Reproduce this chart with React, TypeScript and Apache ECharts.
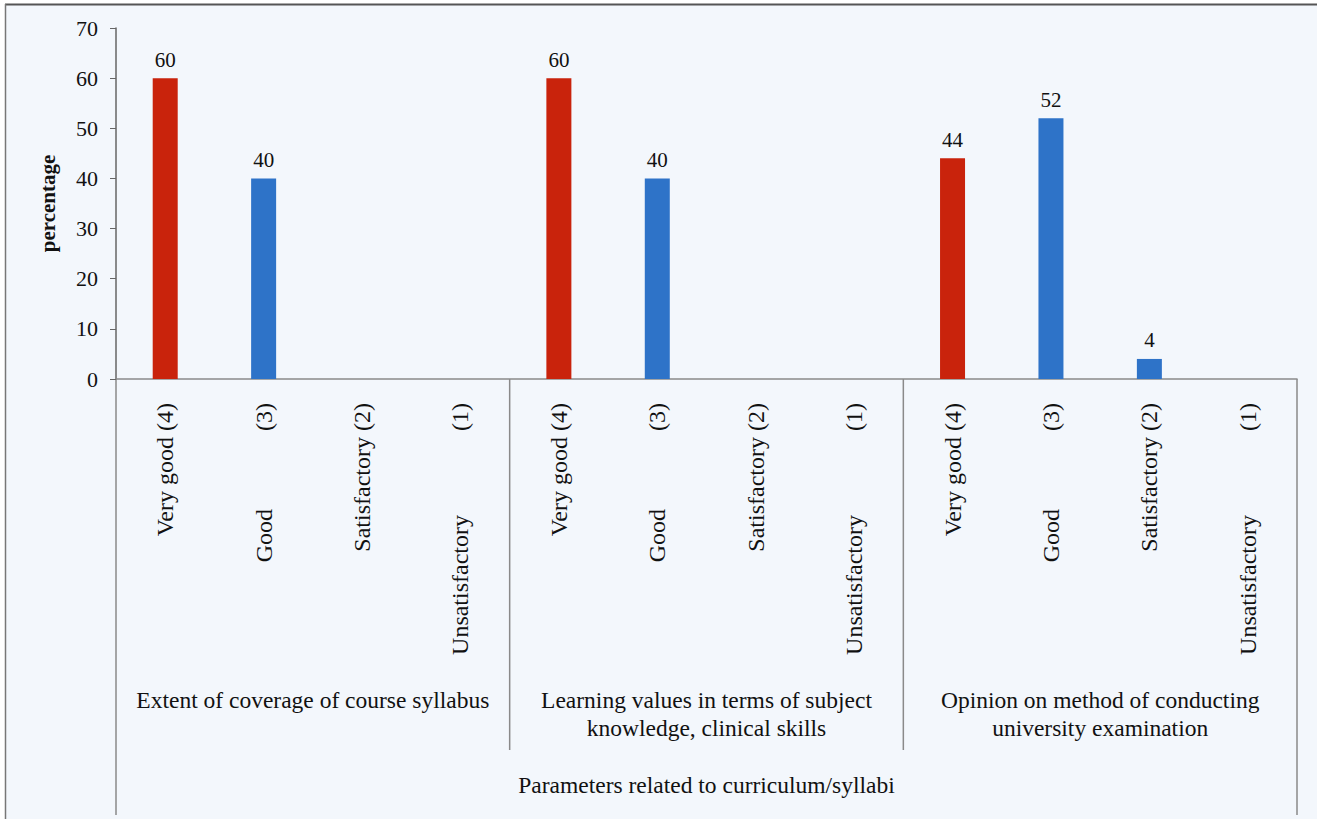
import React, { useEffect, useRef } from "react";
import * as echarts from "echarts";

const NB = "\u00A0";
const groupNames = [
  "Extent of coverage of course syllabus",
  "Learning values in terms of subject\nknowledge, clinical skills",
  "Opinion on method of conducting\nuniversity examination",
];
const ratingLabels = [
  "Very good (4)",
  "Good" + NB.repeat(13) + "(3)",
  "Satisfactory (2)",
  "Unsatisfactory" + NB.repeat(14) + "(1)",
];
const coverageValues = [60, 40, 0, 0];
const learningValues = [60, 40, 0, 0];
const examValues = [44, 52, 4, 0];
const yTicks = { min: 0, max: 70, interval: 10 };
const xTitle = "Parameters related to curriculum/syllabi";
const yTitle = "percentage";

const RED = "#c9230c";
const BLUE = "#2e73c8";
const FONT = "'Liberation Serif', 'Times New Roman', 'DejaVu Serif', serif";

export default function App() {
  const ref = useRef<HTMLDivElement>(null);
  useEffect(() => {
    document.body.style.margin = "0";
    const el = ref.current!;
    const chart = echarts.init(el, null, { renderer: "svg" });
    const groupsValues = [coverageValues, learningValues, examValues];
    const categories: string[] = [];
    const values: number[] = [];
    groupsValues.forEach((g, gi) =>
      g.forEach((v, ri) => {
        categories.push(`${gi}-${ri}`);
        values.push(v);
      })
    );
    chart.setOption({
      animation: false,
      backgroundColor: "#f3f7fc",
      textStyle: { fontFamily: FONT },
      grid: { left: 116, right: 20, top: 28, bottom: 440, containLabel: false },
      xAxis: {
        type: "category",
        data: categories,
        axisLine: { show: true, lineStyle: { color: "#8a8a8a", width: 1.5 } },
        axisTick: { show: false },
        axisLabel: {
          interval: 0,
          rotate: 90,
          margin: 24,
          fontFamily: FONT,
          fontSize: 24,
          color: "#111",
          formatter: (_v: string, i: number) => ratingLabels[i % 4],
        },
      },
      yAxis: {
        type: "value",
        min: yTicks.min,
        max: yTicks.max,
        interval: yTicks.interval,
        name: yTitle,
        nameLocation: "middle",
        nameGap: 58,
        nameRotate: 90,
        nameTextStyle: { fontFamily: FONT, fontSize: 21, fontWeight: "bold", color: "#111" },
        splitLine: { show: false },
        axisLine: { show: true, lineStyle: { color: "#666", width: 1.5 } },
        axisTick: { show: true, length: 6, lineStyle: { color: "#666" } },
        axisLabel: { fontFamily: FONT, fontSize: 22, color: "#111", margin: 18 },
      },
      series: [
        {
          type: "bar",
          data: values,
          barWidth: 25,
          itemStyle: {
            color: (p: any) => (p.dataIndex % 4 === 0 ? RED : BLUE),
          },
          label: {
            show: true,
            position: "top",
            distance: 8,
            fontFamily: FONT,
            fontSize: 21,
            color: "#111",
            formatter: (p: any) => (p.value === 0 ? "" : String(p.value)),
          },
        },
      ],
    });

    const xAt = (i: number) => chart.convertToPixel({ xAxisIndex: 0 }, i) as number;
    const bw = xAt(1) - xAt(0);
    const y0 = chart.convertToPixel({ yAxisIndex: 0 }, 0) as number;
    const boundary = (i: number) => xAt(i) - bw / 2;
    const lineStyle = { stroke: "#8a8a8a", lineWidth: 1.5 };
    const graphics: any[] = [
      { type: "rect", shape: { x: 0, y: 0, width: 1317, height: 4 }, style: { fill: "#fff" }, silent: true },
      { type: "rect", shape: { x: 0, y: 0, width: 5, height: 819 }, style: { fill: "#fff" }, silent: true },
      { type: "line", shape: { x1: 5, y1: 4.5, x2: 1317, y2: 4.5 }, style: { stroke: "#555", lineWidth: 2 } },
      { type: "line", shape: { x1: 5.5, y1: 4, x2: 5.5, y2: 819 }, style: { stroke: "#777", lineWidth: 1.5 } },
      { type: "line", shape: { x1: boundary(0), y1: y0, x2: boundary(0), y2: 815 }, style: lineStyle },
      { type: "line", shape: { x1: boundary(12), y1: y0, x2: boundary(12), y2: 815 }, style: lineStyle },
    ];
    [4, 8].forEach((b) => {
      graphics.push({
        type: "line",
        shape: { x1: boundary(b), y1: y0, x2: boundary(b), y2: 750 },
        style: lineStyle,
      });
    });
    groupNames.forEach((name, gi) => {
      const cx = (boundary(gi * 4) + boundary(gi * 4 + 4)) / 2;
      graphics.push({
        type: "text",
        x: cx,
        y: 686,
        style: {
          text: name,
          fontFamily: FONT,
          fontSize: 23.5,
          fill: "#111",
          align: "center",
          verticalAlign: "top",
          lineHeight: 28,
        },
      });
    });
    graphics.push({
      type: "text",
      x: (boundary(0) + boundary(12)) / 2,
      y: 785,
      style: {
        text: xTitle,
        fontFamily: FONT,
        fontSize: 23.5,
        fill: "#111",
        align: "center",
        verticalAlign: "middle",
      },
    });
    chart.setOption({ graphic: graphics });
    return () => chart.dispose();
  }, []);
  return (
    <div
      ref={ref}
      style={{ position: "fixed", left: 0, top: 0, width: 1317, height: 819 }}
    />
  );
}
